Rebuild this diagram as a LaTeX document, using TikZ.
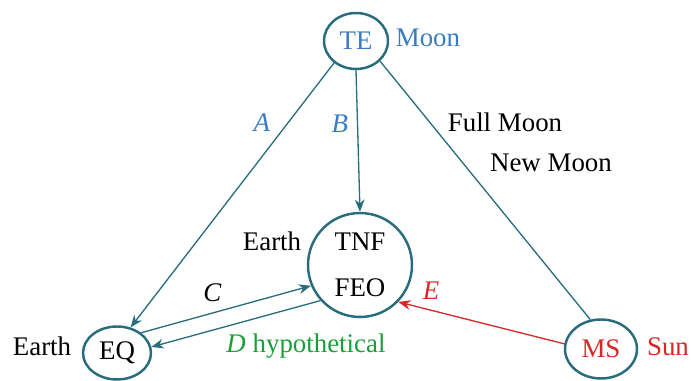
\documentclass[tikz,border=0pt]{standalone}
\usepackage{fontspec}
\setmainfont{Liberation Serif}
\usetikzlibrary{arrows.meta,shapes.geometric}
\definecolor{edgeteal}{RGB}{40,108,126}
\definecolor{moonblue}{RGB}{58,124,196}
\definecolor{sunred}{RGB}{214,40,40}
\definecolor{hypgreen}{RGB}{26,158,58}
\begin{document}
\begin{tikzpicture}[
  x=0.02cm, y=-0.02cm,
  every node/.style={font=\rmfamily\fontsize{15.3}{18}\selectfont, inner sep=0pt},
  body/.style={draw=edgeteal, line width=1.4pt, ellipse},
  link/.style={draw=edgeteal, line width=0.75pt},
  tip/.style={-{Stealth[length=7pt, width=5.5pt]}}
]
\useasboundingbox (0,0) rectangle (691,381);
\node[body, minimum width=1.28cm, minimum height=1.12cm, text=moonblue] (te) at (356,41) {TE};
\node[body, circle, minimum size=2.08cm, align=center] (tnf) at (360,265) {TNF\\[8pt]FEO};
\node[body, minimum width=1.36cm, minimum height=1.06cm] (eq) at (117,353) {EQ};
\node[body, minimum width=1.44cm, minimum height=1.18cm, text=sunred] (ms) at (601,349) {MS};

\node[text=moonblue] (moon) at (428,38) {Moon};
\node[text=sunred] (sun) at (668,347) {Sun};
\node (earthtnf) at (272,241) {Earth};
\node (eartheq) at (42,346) {Earth};
\node (fullmoon) at (505,122) {Full Moon};
\node (newmoon) at (551,163) {New Moon};

\draw[link, tip] (te.225) -- (eq.62) node[pos=0.225, text=moonblue, left=10pt] (a) {\textit{A}};
\draw[link, tip] (te.south) -- (tnf.north) node[pos=0.38, text=moonblue, left=5pt] (b) {\textit{B}};
\draw[link] (te.320) -- (ms.110);
\draw[link, tip] (eq.40) -- (tnf.203) node[pos=0.42, above=6pt] (c) {\textit{C}};
\draw[link, tip] (tnf.222) -- (eq.10);
\node[text=hypgreen] (d) at (306,346) {\textit{D} hypothetical};
\draw[link, tip, draw=sunred] (ms.172) -- (tnf.316);
\node[text=sunred] (e) at (431,291) {\textit{E}};
\end{tikzpicture}
\end{document}
